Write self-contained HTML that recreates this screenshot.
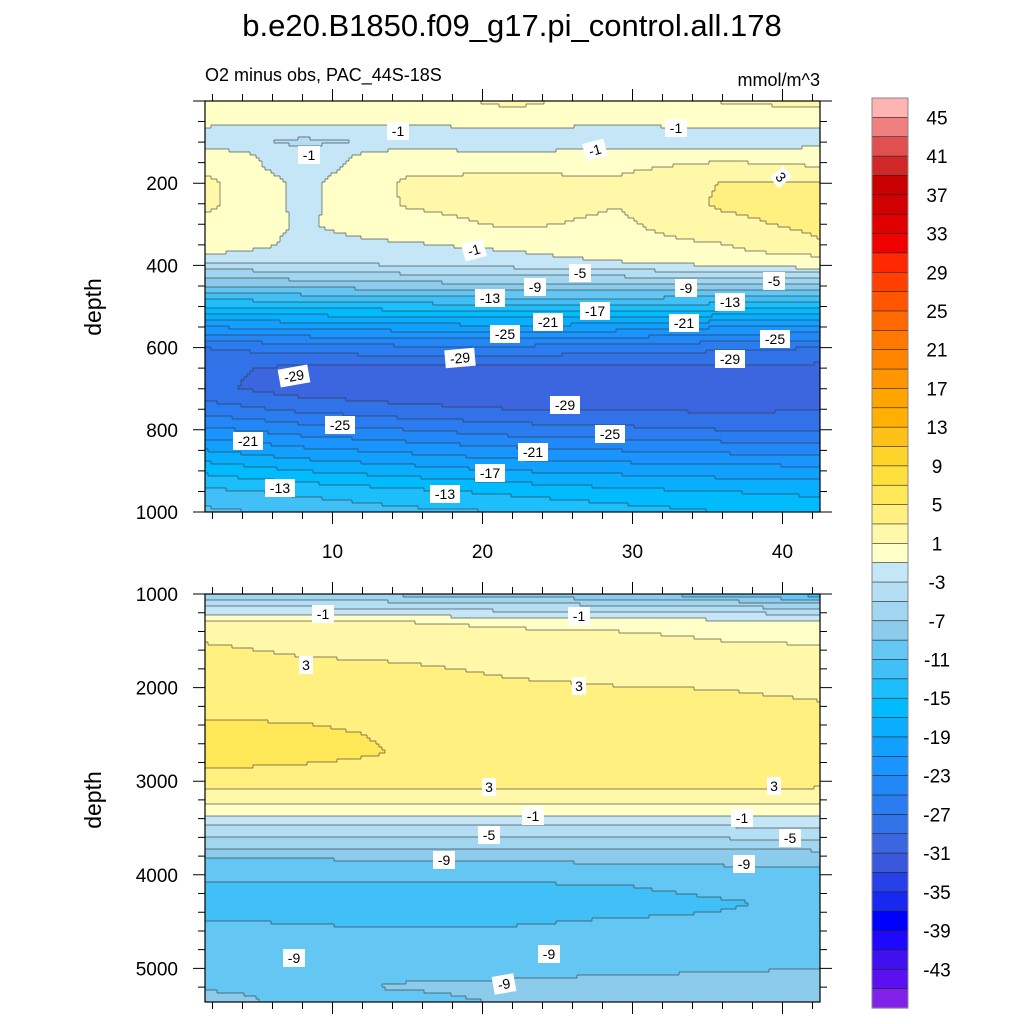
<!DOCTYPE html>
<html><head><meta charset="utf-8">
<style>
body{margin:0;background:#fff;}
svg{display:block;font-family:"Liberation Sans",sans-serif;}
</style></head>
<body>
<svg id="chart" width="1024" height="1024" viewBox="0 0 1024 1024" xmlns="http://www.w3.org/2000/svg">
<rect width="1024" height="1024" fill="#fff"/>
<text x="512" y="36" text-anchor="middle" font-size="31">b.e20.B1850.f09_g17.pi_control.all.178</text>
<text x="205" y="81" font-size="18">O2 minus obs, PAC_44S-18S</text>
<text x="820" y="86" text-anchor="end" font-size="18">mmol/m^3</text>
<text transform="translate(101,307) rotate(-90)" text-anchor="middle" font-size="23">depth</text>
<text transform="translate(101,800) rotate(-90)" text-anchor="middle" font-size="23">depth</text>
<g id="topPanel"></g>
<g id="botPanel"></g>
<g id="colorbar"></g>
</svg>
<script>
// ---- data ----
const xCols = [1.5, 8, 15, 22, 29, 36, 42.5];
const topDepths = [5,40,70,100,130,160,200,250,300,350,380,400,425,450,500,550,600,650,700,750,800,850,900,950,1000];
const topValues = [
 [0.8,0.5,0.5,1.2,0.5,1.0,1.2],
 [0.5,0.3,0.3,0.5,0.3,0.5,0.5],
 [-1.5,-2,-1.5,-1.5,-1.5,-1.5,-1.2],
 [-2,-3.5,-2.5,-3,-2,-3,-1.8],
 [0.3,-2.2,0.2,-0.6,0.2,0.3,0.3],
 [0.5,-2,0.6,0.5,0.6,1.5,1.0],
 [1.5,-1.5,1.3,1.7,1.3,3.1,3.2],
 [1.5,-1.5,1.2,1.8,1.1,3.3,3.6],
 [0.5,-1.2,0.2,1.3,0.6,2.5,3.5],
 [0.3,-1.5,-1.2,-0.5,0.3,0.9,2.8],
 [-1.5,-1.8,-2,-1.5,-0.5,0.3,0.8],
 [-4,-3.5,-3,-2.5,-1.5,-1,0.2],
 [-6.5,-6,-5.5,-5,-4.8,-4.5,-4.5],
 [-9,-8.5,-8,-7.5,-7.5,-7.5,-8],
 [-15,-14.5,-14,-13.5,-13.5,-14,-15],
 [-21,-20.5,-20,-19.5,-20,-21,-21.5],
 [-27,-26,-25.5,-25.5,-26,-26.5,-27],
 [-28.5,-29.5,-29.5,-29.5,-29.5,-29.5,-29.6],
 [-28.5,-30,-30.5,-30.5,-30.5,-30.5,-30.5],
 [-26,-27.5,-28.5,-29,-29.2,-29.3,-29.2],
 [-22.5,-24,-25,-26,-26.5,-27,-27],
 [-19,-20.5,-21.5,-22.5,-23,-23.5,-24],
 [-15.5,-17,-18,-19,-19.5,-20,-20],
 [-12.5,-13.5,-14.5,-15.5,-16.5,-17,-17.5],
 [-10.5,-11.5,-12.5,-13,-14,-15,-15.5]
];
const botDepths = [1000,1100,1200,1300,1400,1500,1700,1900,2100,2300,2500,2700,2900,3000,3100,3200,3300,3400,3500,3600,3700,3800,3900,4000,4100,4300,4500,4700,4900,5100,5200,5300,5400];
const botValues = [
 [-7,-7,-7.5,-8,-9,-10,-12],
 [-4,-4,-4.5,-5,-5.5,-6,-7],
 [-1.5,-1.5,-2,-2.5,-2.8,-3,-3.5],
 [1.2,1.0,1.0,0.5,0,-0.3,-0.8],
 [2,1.8,1.8,1.3,1.0,0.6,0.3],
 [2.9,2.4,2.3,2.0,1.6,1.0,0.8],
 [3.7,3.1,2.9,2.5,2.3,2.2,1.6],
 [4.2,3.8,3.5,3.0,2.8,2.7,2.3],
 [4.6,4.3,4.0,3.5,3.3,3.2,2.9],
 [4.9,4.8,4.5,4,3.8,3.6,3.4],
 [5.5,5.3,4.8,4.3,4.1,3.9,3.8],
 [5.6,5.4,4.9,4.4,4.2,4.0,3.9],
 [4.9,4.7,4.5,4.2,4.0,3.9,3.8],
 [3.5,3.5,3.5,3.5,3.5,3.4,3.4],
 [2.9,2.9,2.9,2.9,2.9,2.9,2.8],
 [1.5,1.5,1.5,1.5,1.5,1.5,1.5],
 [0,0,0,0,0,0,0],
 [-1.5,-1.5,-1.5,-1.5,-1.5,-1.5,-1.5],
 [-3.4,-3.4,-3.4,-3.4,-3.4,-3.3,-3.2],
 [-5,-5,-5,-5,-4.9,-4.8,-4.7],
 [-6.8,-6.8,-6.8,-6.7,-6.6,-6.5,-6.3],
 [-8.8,-8.7,-8.6,-8.5,-8.3,-8.1,-8],
 [-9.6,-9.6,-9.5,-9.4,-9.2,-9,-8.8],
 [-10.5,-10.5,-10.4,-10.3,-10.1,-9.7,-9.5],
 [-11.3,-11.2,-11.1,-11.1,-11.0,-10.3,-10.2],
 [-12,-12,-12,-11.9,-11.8,-11.2,-10.6],
 [-10.9,-11.1,-11.3,-11.2,-10.8,-10.7,-10.4],
 [-10.2,-10.4,-10.4,-10.3,-10.1,-10.0,-9.9],
 [-9.7,-9.8,-9.8,-9.7,-9.5,-9.4,-9.3],
 [-9.4,-9.3,-9.1,-9.05,-8.9,-8.85,-8.7],
 [-9.2,-9.2,-8.9,-8.8,-8.7,-8.7,-8.6],
 [-8.7,-9.3,-9.2,-8.8,-8.8,-8.9,-8.7],
 [-8.2,-9.6,-9.5,-8.95,-9.1,-9.1,-8.9]
];
const colorbarLabels = [45,41,37,33,29,25,21,17,13,9,5,1,-3,-7,-11,-15,-19,-23,-27,-31,-35,-39,-43];
const xTickLabels = [10,20,30,40];
const topYTicks = [200,400,600,800,1000];
const botYTicks = [1000,2000,3000,4000,5000];
// colours bottom (-47..-45) to top (45..47)
const levelColors = ["#8020e8","#5a10f0","#4010f0","#2008ff","#0000ff","#1828f0","#2840e8","#3a58dc","#3c66df","#3272e8","#2a7cf0","#2288f8","#1a94ff","#12a0ff","#0aaeff","#00bcff","#1cbefc","#40c0f6","#64c6f2","#8ccbec","#a0d6f0","#b4def4","#c4e6f6",
 "#ffffc8",
 "#fff8a8","#fff080","#ffe858","#ffdf3c","#ffd42a","#ffc018","#ffb000","#ffa500","#ff9500","#ff8500","#ff7800","#ff6a00","#ff5500","#ff4000","#ff2800","#f00000","#e10000","#d20000","#c80000","#d02828","#e05050","#f08080","#ffb4b4"];
const topLabels = [["-1",398,131,0],["-1",676,128,0],["-1",309,155,0],["-1",595,150,-15],["3",781,177,50],["-1",474,250,-15],["-5",580,273,0],["-9",535,287,0],["-9",686,288,0],["-5",774,281,0],["-13",490,298,0],["-13",730,302,0],["-17",595,311,0],["-21",548,322,0],["-21",684,323,0],["-25",505,334,0],["-25",775,339,0],["-29",460,358,-5],["-29",730,359,0],["-29",294,376,-10],["-29",565,405,0],["-25",340,425,0],["-25",610,434,0],["-21",248,441,0],["-21",533,452,0],["-17",490,473,0],["-13",280,488,0],["-13",445,494,0]];
const botLabels = [["-1",323,614,0],["-1",579,616,0],["3",306,665,0],["3",579,686,0],["3",489,787,0],["3",774,786,0],["-1",533,816,0],["-1",742,818,0],["-5",489,835,0],["-5",790,838,0],["-9",444,860,0],["-9",744,864,0],["-9",294,958,0],["-9",549,954,0],["-9",504,984,-10]];

// ---- helpers ----
const NS="http://www.w3.org/2000/svg";
function mk(tag,attrs,parent){const e=document.createElementNS(NS,tag);for(const k in attrs)e.setAttribute(k,attrs[k]);parent.appendChild(e);return e;}
const X0=205,X1=820;
function xScale(v){return X0+(v-1.5)*15;}
function xInv(px){return 1.5+(px-X0)/15;}
function interp(arr,v){let i=0;while(i<arr.length-2&&v>arr[i+1])i++;let t=(v-arr[i])/(arr[i+1]-arr[i]);t=Math.max(0,Math.min(1,t));return [i,t];}
function sample(depths,vals,x,d){const [ci,ct]=interp(xCols,x);const [ri,rt]=interp(depths,d);
 const a=vals[ri][ci],b=vals[ri][ci+1],c=vals[ri+1][ci],e=vals[ri+1][ci+1];
 return (a*(1-ct)+b*ct)*(1-rt)+(c*(1-ct)+e*ct)*rt;}
function levelIdx(v){return Math.max(0,Math.min(46,Math.floor((v+47)/2)));}

function drawPanel(g,Y0,Y1,yScale,yInv,depths,vals,yMinor,yMajor,labels,yTicks,showX,name){
 const cs=3;const nx=Math.ceil((X1-X0)/cs), ny=Math.ceil((Y1-Y0)/cs);
 const grid=[];
 for(let j=0;j<ny;j++){const row=[];const d=yInv(Y0+(j+0.5)*cs);
  for(let i=0;i<nx;i++){row.push(levelIdx(sample(depths,vals,xInv(X0+(i+0.5)*cs),d)));}
  grid.push(row);}
 const fills=mk('g',{},g);
 
 
 for(let j=0;j<ny;j++){let i=0;while(i<nx){let k=i;while(k<nx&&grid[j][k]===grid[j][i])k++;
  const y=Y0+j*cs,h=Math.min(cs,Y1-y),x=X0+i*cs,w=Math.min(k*cs,X1-X0)-i*cs;
  const r=mk('rect',{x:x,y:y,width:w+0.4,height:h+0.4,fill:levelColors[grid[j][i]]},fills);
  
  
  i=k;}}
 let p='';
 for(let j=0;j<ny;j++)for(let i=0;i<nx;i++){
  if(i+1<nx&&grid[j][i]!==grid[j][i+1]){const x=X0+(i+1)*cs,y=Y0+j*cs;p+='M'+x+' '+y+'v'+cs;}
  if(j+1<ny&&grid[j][i]!==grid[j+1][i]){const x=X0+i*cs,y=Y0+(j+1)*cs;p+='M'+x+' '+y+'h'+cs;}}
 const cl=mk('path',{d:p,stroke:'#333',"stroke-width":0.7,fill:'none',"stroke-opacity":0.8},g);
 
 
 labels.forEach(l=>{const lg=mk('g',{transform:`translate(${l[1]},${l[2]}) rotate(${l[3]})`},g);
  
  
  const w=l[0].length*8+6;
  mk('rect',{x:-w/2,y:-9,width:w,height:18,fill:'#fff'},lg);
  mk('text',{x:0,y:5,"text-anchor":"middle","font-size":14},lg).textContent=l[0];});
 const fr=mk('rect',{x:X0,y:Y0,width:X1-X0,height:Y1-Y0,fill:'none',stroke:'#000',"stroke-width":1.2},g);
 
 
 let t='';
 for(let v=2;v<=42;v+=2){const x=xScale(v);const L=(v%10===0)?12:7;t+=`M${x} ${Y1}v${L}M${x} ${Y0}v${-L}`;}
 for(let d=yMinor[0];d<=yMinor[1];d+=yMinor[2]){const y=yScale(d);if(y<Y0-0.5||y>Y1+0.5)continue;const L=(d%yMajor===0)?12:7;t+=`M${X0} ${y}h${-L}M${X1} ${y}h${L}`;}
 const tk=mk('path',{d:t,stroke:'#000',"stroke-width":1,fill:'none'},g);
 
 
 yTicks.forEach(d=>{const tx=mk('text',{x:178,y:yScale(d)+7,"text-anchor":"end","font-size":19},g);
  
  
  tx.textContent=d;});
 if(showX)xTickLabels.forEach(v=>{const tx=mk('text',{x:xScale(v),y:558,"text-anchor":"middle","font-size":19},g);
  
  
  tx.textContent=v;});
}
drawPanel(document.getElementById('topPanel'),101,512,d=>101+d*0.411,py=>(py-101)/0.411,topDepths,topValues,[0,1000,50],200,topLabels,topYTicks,true,'top-panel');
drawPanel(document.getElementById('botPanel'),594,1002,d=>594+(d-1000)*0.0936,py=>1000+(py-594)/0.0936,botDepths,botValues,[1000,5400,200],1000,botLabels,botYTicks,false,'bottom-panel');

const cb=document.getElementById('colorbar');
const CB0=98,CB1=1008,bh=(CB1-CB0)/47;
for(let k=0;k<47;k++){const idx=46-k;const r=mk('rect',{x:872,y:CB0+k*bh,width:36,height:bh+0.3,fill:levelColors[idx],stroke:'#222',"stroke-width":0.6},cb);
 
 }
mk('rect',{x:872,y:CB0,width:36,height:CB1-CB0,fill:'none',stroke:'#888',"stroke-width":1},cb);
colorbarLabels.forEach(v=>{const y=CB0+(47-v)/2*bh;const tx=mk('text',{x:937,y:y+7,"text-anchor":"middle","font-size":19},cb);
 
 
 tx.textContent=v;});
</script>
</body></html>
